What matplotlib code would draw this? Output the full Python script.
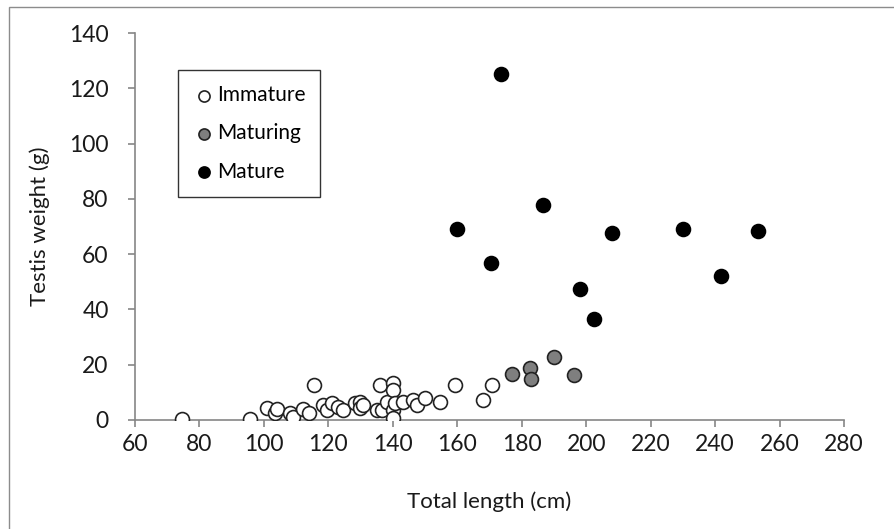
import matplotlib
matplotlib.use("Agg")
import matplotlib.pyplot as plt
from matplotlib.patches import Rectangle

plt.rcParams['font.family'] = ['Lato', 'DejaVu Sans']

immature_x = [74.5, 95.7, 100.9, 103.4, 104, 108.1, 109.1, 112, 114.1, 115.6, 118.4, 119.5,
              121, 123.1, 124.6, 128.3, 129.8, 129.8, 130.9, 135, 136, 136.6, 138.1, 140.2,
              140.2, 140.2, 140.2, 140.7, 143.3, 146.4, 147.4, 150, 154.6, 159.3, 168.1, 170.7]
immature_y = [0.3, 0.3, 4.2, 2.4, 3.9, 2.4, 1.0, 3.9, 2.4, 12.7, 5.4, 3.6,
              6.0, 4.8, 3.6, 6.0, 6.6, 4.2, 5.4, 3.6, 12.7, 3.6, 6.6, 13.3,
              10.9, 3.6, 0.6, 6.0, 6.6, 7.2, 5.4, 7.8, 6.6, 12.7, 7.2, 12.7]

maturing_x = [177, 182.6, 182.9, 190, 196.2]
maturing_y = [16.6, 18.8, 14.8, 22.8, 16.3]

mature_x = [160, 170.5, 173.6, 186.6, 198.1, 202.4, 208, 230, 241.8, 253.3]
mature_y = [69.1, 56.8, 125.2, 77.8, 47.4, 36.5, 67.7, 69.1, 52.1, 68.4]

xticks = list(range(60, 281, 20))
yticks = list(range(0, 141, 20))

fig = plt.figure(figsize=(8.94, 5.29), dpi=100)
ax = fig.add_axes([135/894, 1-420/529, (844-135)/894, (420-33)/529])

ms = 100
ax.scatter(immature_x, immature_y, s=ms, facecolor='white', edgecolor='#222222', linewidth=1.2, label='Immature', zorder=3)
ax.scatter(maturing_x, maturing_y, s=ms, facecolor='#7f7f7f', edgecolor='#222222', linewidth=1.2, label='Maturing', zorder=3)
ax.scatter(mature_x, mature_y, s=ms, facecolor='black', edgecolor='black', linewidth=1.2, label='Mature', zorder=3)

ax.set_xlim(60, 280)
ax.set_ylim(0, 140)
ax.set_xticks(xticks)
ax.set_yticks(yticks)
for s in ['top', 'right']:
    ax.spines[s].set_visible(False)
for s in ['left', 'bottom']:
    ax.spines[s].set_color('#868686')
    ax.spines[s].set_linewidth(1.2)
ax.tick_params(axis='both', direction='out', length=5, width=1.2, color='#868686',
               labelsize=16.5, labelcolor='#1a1a1a')
ax.tick_params(axis='x', pad=5)
ax.tick_params(axis='y', pad=14)
ax.set_xlabel('Total length (cm)', fontsize=16, color='#1a1a1a', labelpad=26)
ax.set_ylabel('Testis weight (g)', fontsize=16, color='#1a1a1a', labelpad=14)

leg = ax.legend(loc='upper left', bbox_to_anchor=(43/709, (420-70)/387), borderaxespad=0,
                frameon=True, fancybox=False, edgecolor='black', fontsize=15,
                labelspacing=0.88, handletextpad=0.05, handlelength=1.1, borderpad=0.72,
                markerscale=0.8)
leg.get_frame().set_linewidth(1.0)

fig.add_artist(Rectangle((9/894, -0.1), 1.2, (1-7/529)+0.1, transform=fig.transFigure,
                         fill=False, edgecolor='#8c8c8c', linewidth=1.0, clip_on=False))

fig.savefig('out.png', dpi=100)
